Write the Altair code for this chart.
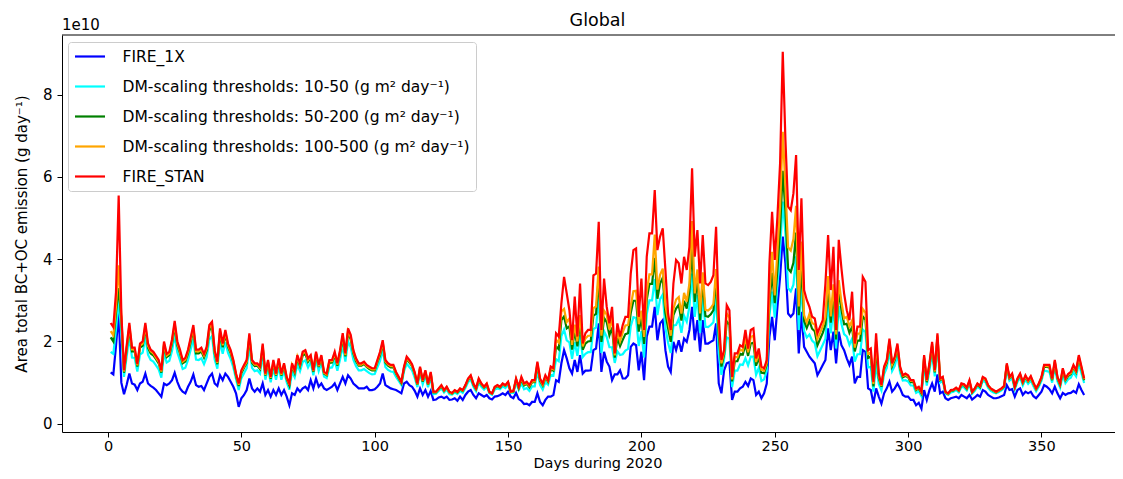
import altair as alt
import pandas as pd

# Values in units of 1e10 g day^-1, one per day (day 1 .. 366)
fire_1x = [
    1.25, 1.2, 1.9, 2.7, 1.0, 0.72, 0.95, 1.22, 0.98, 0.95,
    0.82, 0.98, 1.02, 1.22, 0.98, 0.92, 0.88, 0.82, 0.74, 0.66,
    0.98, 0.94, 0.98, 1.06, 1.24, 1.02, 0.86, 0.78, 0.74, 0.90,
    1.02, 1.20, 0.94, 0.90, 0.92, 0.82, 0.98, 1.14, 1.22, 0.98,
    0.92, 1.18, 1.06, 1.22, 1.14, 1.02, 0.90, 0.74, 0.41, 0.62,
    0.70, 0.82, 1.10, 0.86, 0.78, 0.86, 0.78, 0.98, 0.70, 0.82,
    0.66, 0.82, 0.70, 0.86, 0.70, 0.82, 0.66, 0.45, 0.74, 0.70,
    0.86, 0.78, 0.86, 0.90, 0.82, 1.06, 0.86, 1.10, 0.90, 0.98,
    0.86, 0.82, 0.86, 0.90, 0.98, 0.82, 0.98, 1.14, 0.98, 1.18,
    1.10, 0.98, 0.92, 0.86, 0.86, 0.86, 0.90, 0.82, 0.82, 0.84,
    0.90, 0.98, 1.22, 0.94, 0.90, 0.86, 0.84, 0.82, 0.78, 0.74,
    0.98, 1.02, 0.94, 0.90, 0.80, 0.66, 0.86, 0.70, 0.82, 0.66,
    0.80, 0.58, 0.59, 0.64, 0.66, 0.62, 0.66, 0.58, 0.59, 0.62,
    0.56, 0.66, 0.58, 0.70, 0.78, 0.82, 0.70, 0.62, 0.74, 0.70,
    0.66, 0.70, 0.62, 0.59, 0.66, 0.67, 0.70, 0.74, 0.70, 0.78,
    0.66, 0.62, 0.75, 0.60, 0.56, 0.48, 0.49, 0.45, 0.53, 0.53,
    0.74, 0.53, 0.45, 0.58, 0.66, 0.66, 0.70, 1.06, 1.02, 1.47,
    1.79, 1.59, 1.35, 1.22, 1.55, 1.26, 1.67, 1.22, 1.29, 1.29,
    1.30, 1.79, 1.83, 2.44, 1.26, 1.75, 1.51, 1.39, 1.06, 1.20,
    1.20, 1.30, 1.10, 1.10, 1.18, 1.87, 1.95, 1.91, 1.30, 1.75,
    1.06, 2.12, 2.36, 2.36, 2.84, 2.03, 2.44, 2.52, 1.79, 1.39,
    1.26, 1.99, 1.79, 2.03, 1.75, 2.07, 1.99, 2.28, 2.84, 2.03,
    2.52, 1.75, 2.52, 1.95, 1.95, 1.99, 2.03, 2.44, 0.98, 0.74,
    1.30, 1.47, 1.50, 0.58, 0.78, 0.78, 0.86, 0.90, 1.02, 0.92,
    1.10, 1.06, 0.70, 0.78, 0.62, 0.74, 0.98, 2.12, 2.60, 2.03,
    2.84, 3.57, 4.55, 3.90, 2.68, 2.60, 2.68, 3.29, 1.71, 2.72,
    1.87, 1.75, 1.63, 1.55, 1.47, 1.18, 1.30, 1.43, 1.55, 2.32,
    1.79, 2.24, 1.47, 2.24, 1.91, 1.79, 1.59, 1.43, 1.63, 0.98,
    1.14, 1.14, 1.79, 1.75, 0.86, 0.82, 0.49, 0.86, 0.66, 0.49,
    0.74, 0.86, 1.02, 0.78, 0.86, 0.98, 0.86, 0.70, 0.66, 0.66,
    0.58, 0.58, 0.45, 0.51, 0.37, 0.82, 0.58, 0.82, 0.98, 0.78,
    1.20, 0.74, 0.78, 0.62, 0.58, 0.62, 0.64, 0.66, 0.62, 0.70,
    0.66, 0.62, 0.70, 0.59, 0.64, 0.70, 0.66, 0.82, 0.78, 0.70,
    0.66, 0.62, 0.62, 0.64, 0.67, 0.70, 0.94, 0.82, 0.84, 0.66,
    0.82, 0.86, 0.70, 0.78, 0.74, 0.78, 0.67, 0.62, 0.70, 0.78,
    0.94, 0.90, 0.84, 0.74, 0.90, 0.74, 0.62, 0.75, 0.70, 0.74,
    0.75, 0.80, 0.75, 0.96, 0.82, 0.70,
]

dm_10_50 = [
    1.75, 1.7, 2.3, 3.0, 2.22, 1.14, 1.63, 2.11, 1.61, 1.60,
    1.27, 1.68, 1.73, 2.11, 1.68, 1.55, 1.51, 1.42, 1.32, 1.12,
    1.71, 1.49, 1.53, 1.77, 2.15, 1.73, 1.54, 1.33, 1.36, 1.55,
    1.80, 2.06, 1.56, 1.55, 1.59, 1.45, 1.62, 2.05, 2.13, 1.56,
    1.34, 2.0, 1.70, 1.98, 1.72, 1.57, 1.37, 1.09, 0.82, 1.11,
    1.23, 1.35, 1.89, 1.36, 1.28, 1.30, 1.22, 1.68, 1.07, 1.35,
    1.01, 1.35, 1.07, 1.39, 1.07, 1.29, 1.01, 0.83, 1.27, 1.13,
    1.44, 1.28, 1.50, 1.54, 1.37, 1.50, 1.18, 1.57, 1.28, 1.48,
    1.15, 1.11, 1.36, 1.37, 1.53, 1.29, 1.56, 1.90, 1.51, 2.0,
    1.86, 1.56, 1.40, 1.30, 1.30, 1.33, 1.28, 1.23, 1.20, 1.21,
    1.37, 1.53, 1.80, 1.38, 1.31, 1.27, 1.26, 1.14, 1.04, 0.94,
    1.28, 1.46, 1.38, 1.30, 1.12, 0.89, 1.24, 0.96, 1.17, 0.89,
    1.13, 0.72, 0.73, 0.80, 0.86, 0.76, 0.83, 0.72, 0.71, 0.76,
    0.72, 0.80, 0.75, 0.87, 1.01, 1.08, 0.90, 0.79, 1.0, 0.90,
    0.83, 0.90, 0.74, 0.70, 0.83, 0.86, 0.84, 0.91, 0.87, 0.95,
    0.75, 0.75, 1.0, 0.82, 0.98, 0.84, 0.87, 0.80, 0.91, 0.91,
    1.29, 0.94, 0.83, 1.01, 0.95, 1.19, 1.17, 1.57, 1.52, 2.13,
    2.29, 2.03, 1.98, 1.58, 1.98, 1.65, 2.16, 1.62, 1.70, 1.74,
    1.74, 2.30, 2.34, 3.13, 1.72, 2.25, 2.11, 1.86, 1.86, 1.48,
    1.76, 1.67, 1.69, 1.78, 1.82, 2.37, 2.59, 2.57, 1.89, 2.25,
    1.61, 2.66, 3.0, 3.0, 3.52, 2.64, 3.03, 3.14, 2.34, 1.97,
    1.72, 2.39, 2.40, 2.55, 2.21, 2.63, 2.48, 2.85, 3.65, 2.60,
    3.13, 2.21, 3.10, 2.36, 2.35, 2.40, 2.47, 3.10, 1.71, 1.19,
    1.57, 2.10, 2.07, 0.89, 1.29, 1.29, 1.44, 1.43, 1.59, 1.42,
    1.63, 1.63, 1.19, 1.36, 1.04, 1.08, 1.29, 2.62, 3.21, 2.58,
    3.37, 4.23, 5.40, 4.62, 3.30, 3.22, 3.38, 4.07, 2.28, 3.38,
    2.26, 2.10, 2.17, 2.02, 1.96, 1.64, 1.78, 1.92, 2.07, 2.96,
    2.20, 2.82, 1.83, 2.86, 2.43, 2.18, 2.12, 1.92, 2.07, 1.51,
    1.69, 1.69, 2.29, 2.23, 1.37, 1.38, 0.78, 1.46, 0.97, 0.81,
    1.21, 1.36, 1.78, 1.28, 1.41, 1.68, 1.24, 1.05, 1.06, 1.03,
    0.93, 0.93, 0.75, 0.79, 0.67, 1.43, 0.93, 1.29, 1.71, 1.15,
    1.92, 1.0, 1.04, 0.74, 0.70, 0.76, 0.78, 0.82, 0.76, 0.90,
    0.88, 0.81, 0.96, 0.73, 0.80, 0.90, 0.85, 1.05, 1.01, 0.87,
    0.80, 0.76, 0.74, 0.77, 0.81, 0.86, 1.32, 1.05, 1.11, 0.83,
    1.02, 1.12, 0.93, 1.07, 0.97, 1.05, 0.91, 0.79, 0.90, 1.04,
    1.29, 1.28, 1.26, 1.0, 1.37, 1.03, 0.88, 1.18, 0.99, 1.08,
    1.12, 1.25, 1.15, 1.47, 1.23, 0.99,
]

dm_50_200 = [
    2.1, 2.0, 2.7, 3.3, 2.53, 1.24, 1.81, 2.33, 1.76, 1.76,
    1.39, 1.85, 1.90, 2.33, 1.85, 1.71, 1.66, 1.57, 1.47, 1.24,
    1.90, 1.62, 1.67, 1.95, 2.37, 1.90, 1.71, 1.47, 1.51, 1.71,
    1.99, 2.28, 1.71, 1.71, 1.76, 1.61, 1.78, 2.27, 2.35, 1.71,
    1.45, 2.21, 1.86, 2.17, 1.87, 1.71, 1.49, 1.17, 0.92, 1.23,
    1.36, 1.48, 2.09, 1.48, 1.40, 1.41, 1.33, 1.85, 1.17, 1.48,
    1.09, 1.48, 1.17, 1.52, 1.17, 1.41, 1.09, 0.93, 1.40, 1.24,
    1.59, 1.40, 1.66, 1.70, 1.51, 1.61, 1.26, 1.69, 1.38, 1.60,
    1.22, 1.18, 1.48, 1.49, 1.67, 1.41, 1.71, 2.09, 1.64, 2.21,
    2.05, 1.71, 1.52, 1.41, 1.41, 1.45, 1.38, 1.33, 1.30, 1.30,
    1.49, 1.67, 1.95, 1.49, 1.41, 1.37, 1.37, 1.22, 1.10, 0.99,
    1.35, 1.57, 1.49, 1.40, 1.21, 0.95, 1.34, 1.02, 1.25, 0.95,
    1.21, 0.76, 0.76, 0.84, 0.91, 0.80, 0.88, 0.76, 0.73, 0.80,
    0.76, 0.84, 0.80, 0.92, 1.07, 1.14, 0.95, 0.84, 1.06, 0.95,
    0.88, 0.95, 0.76, 0.73, 0.88, 0.91, 0.88, 0.96, 0.92, 1.0,
    0.77, 0.78, 1.07, 0.87, 1.08, 0.93, 0.97, 0.89, 1.01, 1.01,
    1.43, 1.04, 0.93, 1.12, 1.02, 1.32, 1.29, 1.88, 1.81, 2.52,
    2.61, 2.32, 2.37, 1.80, 2.26, 1.88, 2.47, 1.80, 1.95, 2.0,
    2.01, 2.63, 2.67, 3.58, 1.99, 2.57, 2.47, 2.15, 2.34, 1.61,
    2.09, 1.89, 2.04, 2.18, 2.20, 2.69, 2.99, 2.99, 2.24, 2.57,
    1.94, 3.01, 3.40, 3.40, 4.03, 3.04, 3.41, 3.55, 2.69, 2.32,
    1.99, 2.64, 2.80, 2.89, 2.51, 2.99, 2.80, 3.21, 4.26, 2.96,
    3.53, 2.51, 3.47, 2.62, 2.60, 2.66, 2.76, 3.52, 2.15, 1.39,
    1.69, 2.49, 2.41, 1.03, 1.52, 1.52, 1.70, 1.68, 1.93, 1.65,
    1.95, 1.97, 1.41, 1.62, 1.24, 1.23, 1.44, 2.94, 3.67, 2.93,
    3.76, 4.73, 6.15, 5.16, 3.77, 3.69, 3.91, 4.65, 2.64, 3.88,
    2.50, 2.33, 2.50, 2.31, 2.25, 1.91, 2.06, 2.21, 2.41, 3.36,
    2.46, 3.19, 2.05, 3.27, 2.77, 2.42, 2.43, 2.21, 2.36, 1.76,
    2.02, 2.02, 2.61, 2.53, 1.60, 1.63, 0.91, 1.82, 1.11, 0.90,
    1.33, 1.48, 1.97, 1.40, 1.55, 1.85, 1.34, 1.13, 1.16, 1.13,
    1.01, 1.01, 0.82, 0.86, 0.74, 1.59, 1.01, 1.41, 1.89, 1.25,
    2.10, 1.06, 1.10, 0.76, 0.72, 0.80, 0.81, 0.86, 0.80, 0.95,
    0.93, 0.85, 1.02, 0.76, 0.84, 0.95, 0.89, 1.11, 1.07, 0.92,
    0.84, 0.80, 0.76, 0.80, 0.84, 0.90, 1.42, 1.11, 1.18, 0.88,
    1.07, 1.18, 0.99, 1.14, 1.03, 1.12, 0.97, 0.84, 0.95, 1.10,
    1.38, 1.38, 1.37, 1.06, 1.49, 1.10, 0.94, 1.29, 1.06, 1.16,
    1.21, 1.37, 1.25, 1.60, 1.33, 1.06,
]

dm_100_500 = [
    2.25, 2.15, 2.85, 3.85, 2.62, 1.27, 1.85, 2.39, 1.81, 1.81,
    1.42, 1.90, 1.95, 2.39, 1.90, 1.76, 1.71, 1.61, 1.51, 1.27,
    1.95, 1.66, 1.71, 2.0, 2.44, 1.95, 1.75, 1.51, 1.56, 1.76,
    2.05, 2.34, 1.76, 1.76, 1.80, 1.66, 1.83, 2.34, 2.42, 1.75,
    1.48, 2.26, 1.91, 2.23, 1.91, 1.75, 1.52, 1.20, 0.95, 1.27,
    1.39, 1.51, 2.15, 1.52, 1.44, 1.44, 1.36, 1.90, 1.19, 1.51,
    1.12, 1.51, 1.19, 1.55, 1.19, 1.44, 1.12, 0.95, 1.43, 1.27,
    1.63, 1.44, 1.71, 1.75, 1.55, 1.64, 1.28, 1.72, 1.40, 1.64,
    1.24, 1.20, 1.52, 1.52, 1.71, 1.44, 1.75, 2.15, 1.67, 2.26,
    2.11, 1.75, 1.56, 1.44, 1.44, 1.48, 1.40, 1.36, 1.32, 1.32,
    1.52, 1.71, 1.99, 1.52, 1.44, 1.40, 1.40, 1.24, 1.12, 1.01,
    1.37, 1.60, 1.52, 1.42, 1.23, 0.96, 1.36, 1.04, 1.28, 0.96,
    1.24, 0.77, 0.77, 0.85, 0.93, 0.81, 0.89, 0.77, 0.74, 0.81,
    0.77, 0.85, 0.81, 0.93, 1.08, 1.16, 0.97, 0.85, 1.08, 0.97,
    0.89, 0.97, 0.77, 0.73, 0.89, 0.93, 0.89, 0.97, 0.93, 1.01,
    0.77, 0.79, 1.08, 0.89, 1.11, 0.96, 0.99, 0.92, 1.03, 1.03,
    1.47, 1.07, 0.95, 1.15, 1.04, 1.35, 1.32, 2.04, 1.97, 2.73,
    2.79, 2.47, 2.56, 1.92, 2.41, 2.0, 2.64, 1.88, 2.07, 2.14,
    2.14, 2.81, 2.85, 3.82, 2.14, 2.75, 2.65, 2.29, 2.59, 1.66,
    2.27, 2.01, 2.22, 2.39, 2.40, 2.87, 3.22, 3.23, 2.42, 2.75,
    2.11, 3.21, 3.63, 3.63, 4.60, 3.26, 3.62, 3.77, 2.88, 2.50,
    2.14, 2.79, 3.02, 3.08, 2.68, 3.18, 2.97, 3.41, 4.93, 3.17,
    3.75, 2.68, 3.68, 2.77, 2.75, 2.81, 2.91, 3.76, 2.37, 1.47,
    1.74, 2.68, 2.58, 1.08, 1.62, 1.62, 1.81, 1.77, 2.10, 1.74,
    2.11, 2.14, 1.50, 1.73, 1.31, 1.29, 1.49, 3.12, 4.18, 3.12,
    4.20, 5.28, 7.10, 5.76, 4.29, 4.21, 4.49, 5.30, 2.85, 4.43,
    2.64, 2.46, 2.67, 2.45, 2.41, 2.06, 2.21, 2.37, 2.59, 3.59,
    2.61, 3.39, 2.17, 3.49, 2.96, 2.56, 2.60, 2.37, 2.51, 1.85,
    2.19, 2.19, 2.79, 2.70, 1.70, 1.73, 0.97, 2.01, 1.16, 0.92,
    1.36, 1.52, 2.02, 1.44, 1.59, 1.90, 1.36, 1.16, 1.19, 1.15,
    1.04, 1.04, 0.84, 0.88, 0.76, 1.63, 1.04, 1.44, 1.94, 1.27,
    2.15, 1.08, 1.12, 0.77, 0.73, 0.81, 0.82, 0.87, 0.81, 0.97,
    0.95, 0.87, 1.04, 0.77, 0.85, 0.97, 0.91, 1.12, 1.08, 0.93,
    0.85, 0.81, 0.77, 0.81, 0.85, 0.91, 1.44, 1.12, 1.20, 0.89,
    1.09, 1.20, 1.0, 1.16, 1.04, 1.14, 0.98, 0.85, 0.97, 1.12,
    1.41, 1.40, 1.40, 1.08, 1.52, 1.12, 0.96, 1.32, 1.08, 1.19,
    1.23, 1.40, 1.27, 1.63, 1.36, 1.08,
]

fire_stan = [
    2.45, 2.35, 3.2, 5.55, 2.7, 1.3, 1.9, 2.45, 1.85, 1.85,
    1.45, 1.95, 2.0, 2.45, 1.95, 1.8, 1.75, 1.65, 1.55, 1.3,
    2.0, 1.7, 1.75, 2.05, 2.5, 2.0, 1.8, 1.55, 1.6, 1.8,
    2.1, 2.4, 1.8, 1.8, 1.85, 1.7, 1.87, 2.40, 2.48, 1.79,
    1.51, 2.32, 1.95, 2.28, 1.95, 1.79, 1.55, 1.22, 0.98, 1.30,
    1.43, 1.55, 2.20, 1.55, 1.47, 1.47, 1.39, 1.95, 1.22, 1.55,
    1.14, 1.55, 1.22, 1.59, 1.22, 1.47, 1.14, 0.98, 1.47, 1.30,
    1.67, 1.47, 1.75, 1.79, 1.59, 1.67, 1.30, 1.75, 1.43, 1.67,
    1.26, 1.22, 1.55, 1.55, 1.75, 1.47, 1.79, 2.20, 1.71, 2.32,
    2.16, 1.79, 1.59, 1.47, 1.47, 1.51, 1.43, 1.39, 1.35, 1.35,
    1.55, 1.75, 2.03, 1.55, 1.47, 1.43, 1.43, 1.26, 1.14, 1.02,
    1.39, 1.63, 1.55, 1.45, 1.25, 0.98, 1.39, 1.06, 1.30, 0.98,
    1.26, 0.78, 0.78, 0.86, 0.94, 0.82, 0.90, 0.78, 0.75, 0.82,
    0.78, 0.86, 0.82, 0.94, 1.10, 1.18, 0.98, 0.86, 1.10, 0.98,
    0.90, 0.98, 0.78, 0.74, 0.90, 0.94, 0.90, 0.98, 0.94, 1.02,
    0.78, 0.80, 1.10, 0.90, 1.14, 0.98, 1.02, 0.94, 1.06, 1.06,
    1.51, 1.10, 0.98, 1.18, 1.06, 1.39, 1.35, 2.20, 2.12, 2.93,
    3.57, 3.17, 2.76, 2.03, 3.09, 2.12, 3.41, 1.95, 2.20, 2.28,
    2.28, 3.61, 3.65, 4.91, 2.28, 3.53, 2.84, 2.44, 2.84, 1.71,
    2.44, 2.12, 2.40, 2.60, 2.60, 3.65, 4.22, 4.26, 2.60, 3.53,
    2.28, 4.06, 4.63, 4.63, 5.68, 4.22, 4.55, 4.75, 3.74, 2.68,
    2.28, 3.41, 3.98, 3.90, 3.41, 4.06, 3.74, 4.30, 6.21, 4.06,
    4.71, 3.41, 4.59, 3.41, 3.37, 3.45, 3.61, 4.79, 2.60, 1.55,
    1.79, 2.88, 2.76, 1.14, 1.71, 1.71, 1.91, 1.87, 2.28, 1.83,
    2.28, 2.32, 1.59, 1.83, 1.39, 1.35, 1.55, 3.90, 5.15, 3.98,
    5.03, 6.33, 9.04, 6.90, 5.28, 5.19, 5.60, 6.53, 3.74, 5.48,
    3.25, 3.01, 2.84, 2.60, 2.56, 2.20, 2.36, 2.52, 3.41, 4.59,
    3.25, 4.30, 2.28, 4.47, 3.78, 3.17, 2.76, 2.52, 3.21, 1.95,
    2.36, 2.36, 3.57, 3.45, 1.79, 1.83, 1.02, 2.20, 1.22, 0.94,
    1.39, 1.55, 2.07, 1.47, 1.63, 1.95, 1.39, 1.18, 1.22, 1.18,
    1.06, 1.06, 0.86, 0.90, 0.78, 1.67, 1.06, 1.47, 1.99, 1.30,
    2.20, 1.10, 1.14, 0.78, 0.74, 0.82, 0.83, 0.88, 0.82, 0.98,
    0.96, 0.88, 1.06, 0.78, 0.86, 0.98, 0.92, 1.14, 1.10, 0.94,
    0.86, 0.82, 0.78, 0.82, 0.86, 0.92, 1.47, 1.14, 1.22, 0.90,
    1.10, 1.22, 1.02, 1.18, 1.06, 1.16, 1.00, 0.86, 0.98, 1.14,
    1.43, 1.43, 1.43, 1.10, 1.55, 1.14, 0.98, 1.35, 1.10, 1.21,
    1.26, 1.43, 1.30, 1.67, 1.39, 1.10,
]

series_names = [
    "FIRE_1X",
    "DM-scaling thresholds: 10-50 (g m\u00b2 day\u207b\u00b9)",
    "DM-scaling thresholds: 50-200 (g m\u00b2 day\u207b\u00b9)",
    "DM-scaling thresholds: 100-500 (g m\u00b2 day\u207b\u00b9)",
    "FIRE_STAN",
]
series_values = [fire_1x, dm_10_50, dm_50_200, dm_100_500, fire_stan]
series_colors = ["#0000ff", "#00ffff", "#008000", "#ffa500", "#ff0000"]
x_ticks = [0, 50, 100, 150, 200, 250, 300, 350]
y_ticks = [0, 2, 4, 6, 8]

rows = []
for name, vals in zip(series_names, series_values):
    for i, v in enumerate(vals):
        rows.append({"day": i + 1, "value": v, "series": name})
df = pd.DataFrame(rows)

W, H = 1053, 397
FONT = "DejaVu Sans"
FS = 15
FSX = 14.5

xscale = alt.Scale(domain=[-17.25, -17.25 + W / 2.667], nice=False, zero=False)
yscale = alt.Scale(domain=[-0.2, 9.45], nice=False, zero=False)

xaxis = alt.Axis(
    values=x_ticks, title="Days during 2020", grid=False,
    labelFont=FONT, labelFontSize=FSX, labelColor="black", labelPadding=2,
    titleFont=FONT, titleFontSize=FSX, titleColor="black", titleFontWeight="normal",
    titleX=535.5, titleY=35, titleBaseline="alphabetic", titleAlign="center",
    tickSize=5, tickColor="black", domainColor="black", domainWidth=1, tickWidth=1,
    labelFlush=False, format="d",
)
yaxis = alt.Axis(
    values=y_ticks, title="Area total BC+OC emission (g day\u207b\u00b9)", grid=False,
    labelFont=FONT, labelFontSize=FS, labelColor="black", labelPadding=5,
    titleFont=FONT, titleFontSize=FS, titleColor="black", titleFontWeight="normal",
    titleX=-41, titleY=H / 2, titleAngle=270, titleBaseline="middle", titleAlign="center",
    tickSize=5, tickColor="black", domainColor="black", domainWidth=1, tickWidth=1,
    labelFlush=False, format="d",
)

legend = alt.Legend(
    title=None, orient="none", legendX=6, legendY=7,
    symbolType="M-1,0H3", symbolSize=225, symbolStrokeWidth=2.2,
    labelFont=FONT, labelFontSize=15.5, labelColor="black", labelLimit=0,
    labelOffset=31, rowPadding=12, padding=5.5,
    fillColor="white", strokeColor="#cccccc", cornerRadius=3,
)

color = alt.Color(
    "series:N",
    scale=alt.Scale(domain=series_names, range=series_colors),
    legend=legend,
)

layers = []
for name in series_names:
    layers.append(
        alt.Chart(df)
        .transform_filter(alt.datum.series == name)
        .mark_line(strokeWidth=2.2, clip=True)
        .encode(
            x=alt.X("day:Q", scale=xscale, axis=xaxis),
            y=alt.Y("value:Q", scale=yscale, axis=yaxis),
            color=color,
        )
    )

frame_top = alt.Chart(pd.DataFrame({"k": [0]})).mark_rule(color="black", strokeWidth=1).encode(
    x=alt.value(0), x2=alt.value(W), y=alt.value(0)
)
offset_text = alt.Chart(pd.DataFrame({"t": ["1e10"]})).mark_text(
    align="left", baseline="alphabetic", fontSize=FS, font=FONT, color="black"
).encode(text="t:N", x=alt.value(0), y=alt.value(-5))
title_text = alt.Chart(pd.DataFrame({"t": ["Global"]})).mark_text(
    align="center", baseline="alphabetic", fontSize=17.5, font=FONT, color="black"
).encode(text="t:N", x=alt.value(535.5), y=alt.value(-9))

chart = (
    alt.layer(*layers, frame_top, offset_text, title_text)
    .properties(
        width=W, height=H,
        autosize=alt.AutoSizeParams(type="none"),
        padding={"left": 54, "top": 27, "right": 0, "bottom": 39},
    )
    .configure(font=FONT)
    .configure_view(stroke="transparent")
)

chart.save("out.html", embed_options={"renderer": "svg", "actions": False})
